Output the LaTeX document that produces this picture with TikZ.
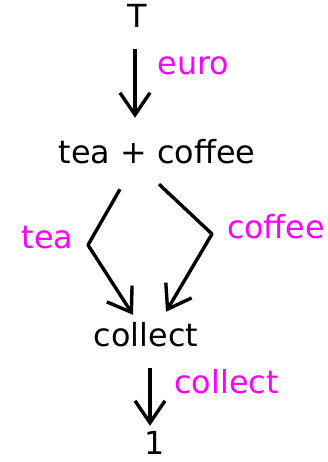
\documentclass[tikz,border=0pt]{standalone}
\usepackage{fontspec}
\setmainfont{DejaVu Sans}
\usetikzlibrary{arrows.meta,calc}
\begin{document}
\begin{tikzpicture}[x=1pt,y=-1pt,
  lbl/.style={inner sep=0pt, anchor=base, text height=23pt, text depth=7pt, font=\fontsize{31.8}{36}\selectfont},
  arlbl/.style={lbl, text=magenta},
  arr/.style={line width=3.4pt, line join=round, -{Straight Barb[length=22pt,width=30pt]}}]
\useasboundingbox (0,0) rectangle (328,462);
\definecolor{magenta}{RGB}{255,0,255}
\node[lbl] (T) at (137,28) {T};
\node[lbl] (tc) at (157,164) {tea + coffee};
\node[lbl] (col) at (146,346) {collect};
\node[lbl] (one) at (155,454) {1};
\node[arlbl] (euro) at (193.5,75) {euro};
\node[arlbl] (tea) at (47.5,248) {tea};
\node[arlbl] (coffee) at (276,238) {coffee};
\node[arlbl] (collect) at (226.5,393) {collect};
\coordinate (bl) at (88,245);
\coordinate (br) at (212,234);
\draw[arr] ($(T.south)+(-2,14)$) -- ($(tc.north)+(-22,-23)$);
\draw[arr] ($(tc.south)+(-37,18)$) -- (bl) -- ($(col.north)+(-13,-8)$);
\draw[arr] ($(tc.south)+(2,13)$) -- (br) -- ($(col.north)+(20,-11)$);
\draw[arr] ($(col.south)+(4,15)$) -- ($(one.north)+(-5,-5)$);
\end{tikzpicture}
\end{document}
